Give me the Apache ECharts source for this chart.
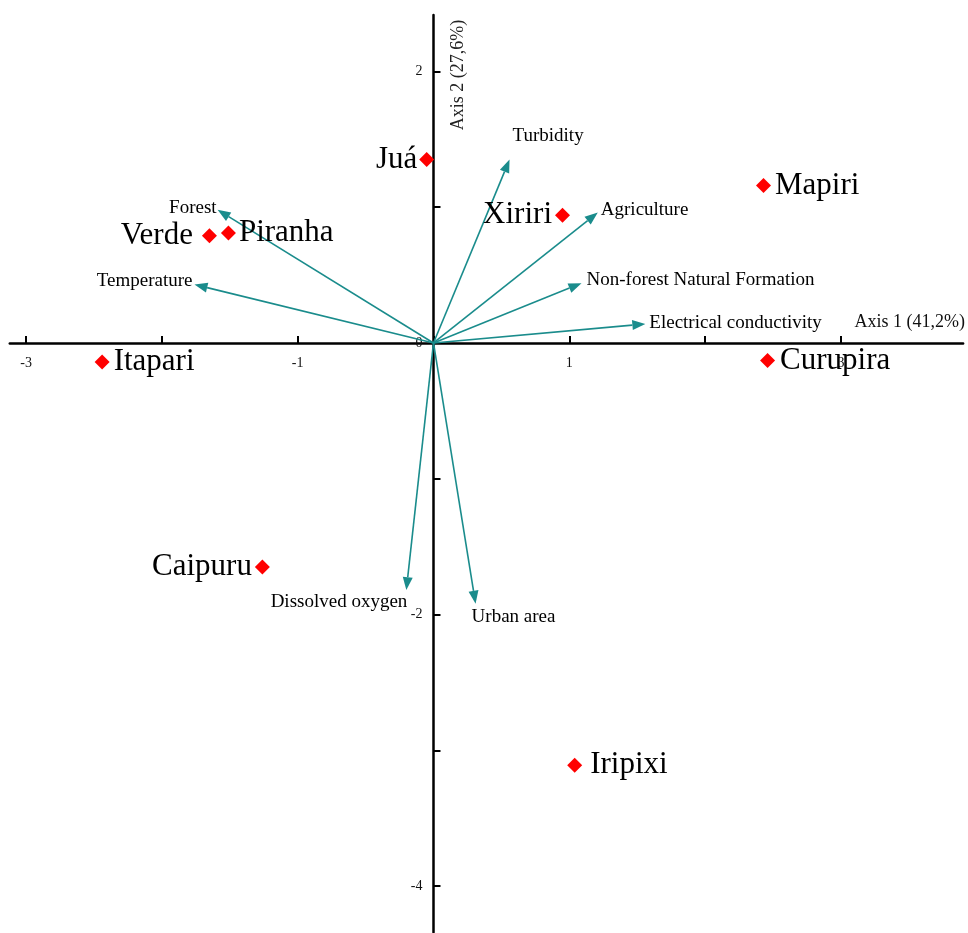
<!DOCTYPE html>
<html>
<head>
<meta charset="utf-8">
<title>PCA biplot</title>
<script src="https://cdn.jsdelivr.net/npm/echarts@6/dist/echarts.min.js"></script>
<style>
  html, body { margin: 0; padding: 0; background: #fff; }
  #chart { width: 968px; height: 933px; }
</style>
</head>
<body>
<div id="chart"></div>
<script>
// Sampling sites (scores on the first two principal axes)
const sites = ['Juá', 'Mapiri', 'Xiriri', 'Verde', 'Piranha', 'Itapari', 'Curupira', 'Caipuru', 'Iripixi'];
const siteAxis1 = [-0.05, 2.43, 0.95, -1.65, -1.51, -2.44, 2.46, -1.26, 1.04];
const siteAxis2 = [1.35, 1.16, 0.94, 0.79, 0.81, -0.14, -0.13, -1.65, -3.11];

// Environmental variables (loading vectors)
const variables = ['Turbidity', 'Agriculture', 'Non-forest Natural Formation', 'Electrical conductivity',
                   'Forest', 'Temperature', 'Dissolved oxygen', 'Urban area'];
const varAxis1 = [0.56, 1.21, 1.09, 1.56, -1.59, -1.76, -0.20, 0.31];
const varAxis2 = [1.35, 0.96, 0.44, 0.14, 0.98, 0.43, -1.82, -1.92];

// Axis ticks and labelled values
const xTicks = [-3, -2, -1, 0, 1, 2, 3];
const xTickLabels = [-3, -1, 1, 3];
const yTicks = [-4, -3, -2, -1, 0, 1, 2];
const yTickLabels = [-4, -2, 0, 2];

const axis1Title = 'Axis 1 (41,2%)';
const axis2Title = 'Axis 2 (27,6%)';

const SERIF = "'Liberation Serif', 'Times New Roman', serif";
const TEAL = '#1a8c8c';

// Plot frame and axis extents
const GRID = { left: 9.8, top: 15, width: 953.3, height: 917.3 };
const X_MIN = -3.12, X_MAX = 3.9;
const Y_MIN = -4.34, Y_MAX = 2.415;

// Both axes cross at the origin; shift each axis (line, ticks and labels) from its grid edge to zero
const xAxisShift = -GRID.height * (0 - Y_MIN) / (Y_MAX - Y_MIN);
const yAxisShift = -GRID.width * (0 - X_MIN) / (X_MAX - X_MIN);

// Where each site name sits relative to its marker
const siteLabelPlace = {
  'Juá': ['left', 2], 'Mapiri': ['right', 4], 'Xiriri': ['left', 3], 'Verde': ['left', 9],
  'Piranha': ['right', 3], 'Itapari': ['right', 4], 'Curupira': ['right', 5],
  'Caipuru': ['left', 3], 'Iripixi': ['right', 8]
};

// Where each variable name sits relative to its arrow tip: [align, dx, dy]
const varLabelPlace = {
  'Turbidity': ['left', 3, -24],
  'Agriculture': ['left', 3, -3],
  'Non-forest Natural Formation': ['left', 5, -3],
  'Electrical conductivity': ['left', 4, -1],
  'Forest': ['right', -1, -2],
  'Temperature': ['right', -2, -4],
  'Dissolved oxygen': ['right', 1, 12],
  'Urban area': ['left', -4, 13]
};

const siteData = sites.map((name, i) => {
  const place = siteLabelPlace[name];
  return {
    name: name,
    value: [siteAxis1[i], siteAxis2[i]],
    label: { position: place[0], distance: place[1] }
  };
});

const varData = variables.map((name, i) => [varAxis1[i], varAxis2[i], i]);

function renderArrow(params, api) {
  const p0 = api.coord([0, 0]);
  const p1 = api.coord([api.value(0), api.value(1)]);
  const name = variables[api.value(2)];
  const dx = p1[0] - p0[0], dy = p1[1] - p0[1];
  const len = Math.sqrt(dx * dx + dy * dy);
  const ux = dx / len, uy = dy / len;
  const headLen = 13, halfW = 5;
  const bx = p1[0] - ux * headLen, by = p1[1] - uy * headLen;
  const place = varLabelPlace[name];
  return {
    type: 'group',
    children: [
      {
        type: 'line',
        shape: { x1: p0[0], y1: p0[1], x2: bx, y2: by },
        style: { stroke: TEAL, lineWidth: 1.6 }
      },
      {
        type: 'polygon',
        shape: { points: [[p1[0], p1[1]], [bx - uy * halfW, by + ux * halfW], [bx + uy * halfW, by - ux * halfW]] },
        style: { fill: TEAL }
      },
      {
        type: 'text',
        x: p1[0] + place[1],
        y: p1[1] + place[2],
        style: {
          text: name,
          fill: '#000',
          font: "19px " + SERIF,
          align: place[0],
          verticalAlign: 'middle'
        }
      }
    ]
  };
}

const chart = echarts.init(document.getElementById('chart'), null, { renderer: 'canvas' });

chart.setOption({
  animation: false,
  backgroundColor: '#fff',
  grid: Object.assign({ containLabel: false, outerBoundsMode: 'none' }, GRID),
  xAxis: {
    type: 'value',
    position: 'bottom',
    offset: xAxisShift,
    min: X_MIN,
    max: X_MAX,
    splitLine: { show: false },
    axisLine: { onZero: false, lineStyle: { color: '#000', width: 2.5 } },
    axisTick: { show: true, inside: true, length: 7, customValues: xTicks, lineStyle: { color: '#000', width: 2 } },
    axisLabel: {
      customValues: xTickLabels,
      margin: 13,
      color: '#111',
      fontFamily: SERIF,
      fontSize: 14
    }
  },
  yAxis: {
    type: 'value',
    position: 'left',
    offset: yAxisShift,
    min: Y_MIN,
    max: Y_MAX,
    splitLine: { show: false },
    axisLine: { onZero: false, lineStyle: { color: '#000', width: 2.5 } },
    axisTick: { show: true, inside: true, length: 7, customValues: yTicks, lineStyle: { color: '#000', width: 2 } },
    axisLabel: {
      customValues: yTickLabels,
      margin: 11,
      color: '#111',
      fontFamily: SERIF,
      fontSize: 14
    }
  },
  graphic: [
    {
      type: 'text',
      right: 3,
      top: 313,
      style: { text: axis1Title, fill: '#111', font: "18px " + SERIF }
    },
    {
      type: 'text',
      x: 458,
      y: 75,
      rotation: Math.PI / 2,
      style: { text: axis2Title, fill: '#222', font: "18px " + SERIF, align: 'center', verticalAlign: 'middle' }
    }
  ],
  series: [
    {
      type: 'custom',
      name: 'variables',
      coordinateSystem: 'cartesian2d',
      data: varData,
      renderItem: renderArrow,
      clip: false,
      z: 3
    },
    {
      type: 'scatter',
      name: 'sites',
      data: siteData,
      symbol: 'diamond',
      symbolSize: 15,
      itemStyle: { color: '#ff0000', opacity: 1 },
      label: {
        show: true,
        formatter: '{b}',
        color: '#000',
        fontFamily: SERIF,
        fontSize: 31
      },
      z: 4
    }
  ]
});
</script>
</body>
</html>
